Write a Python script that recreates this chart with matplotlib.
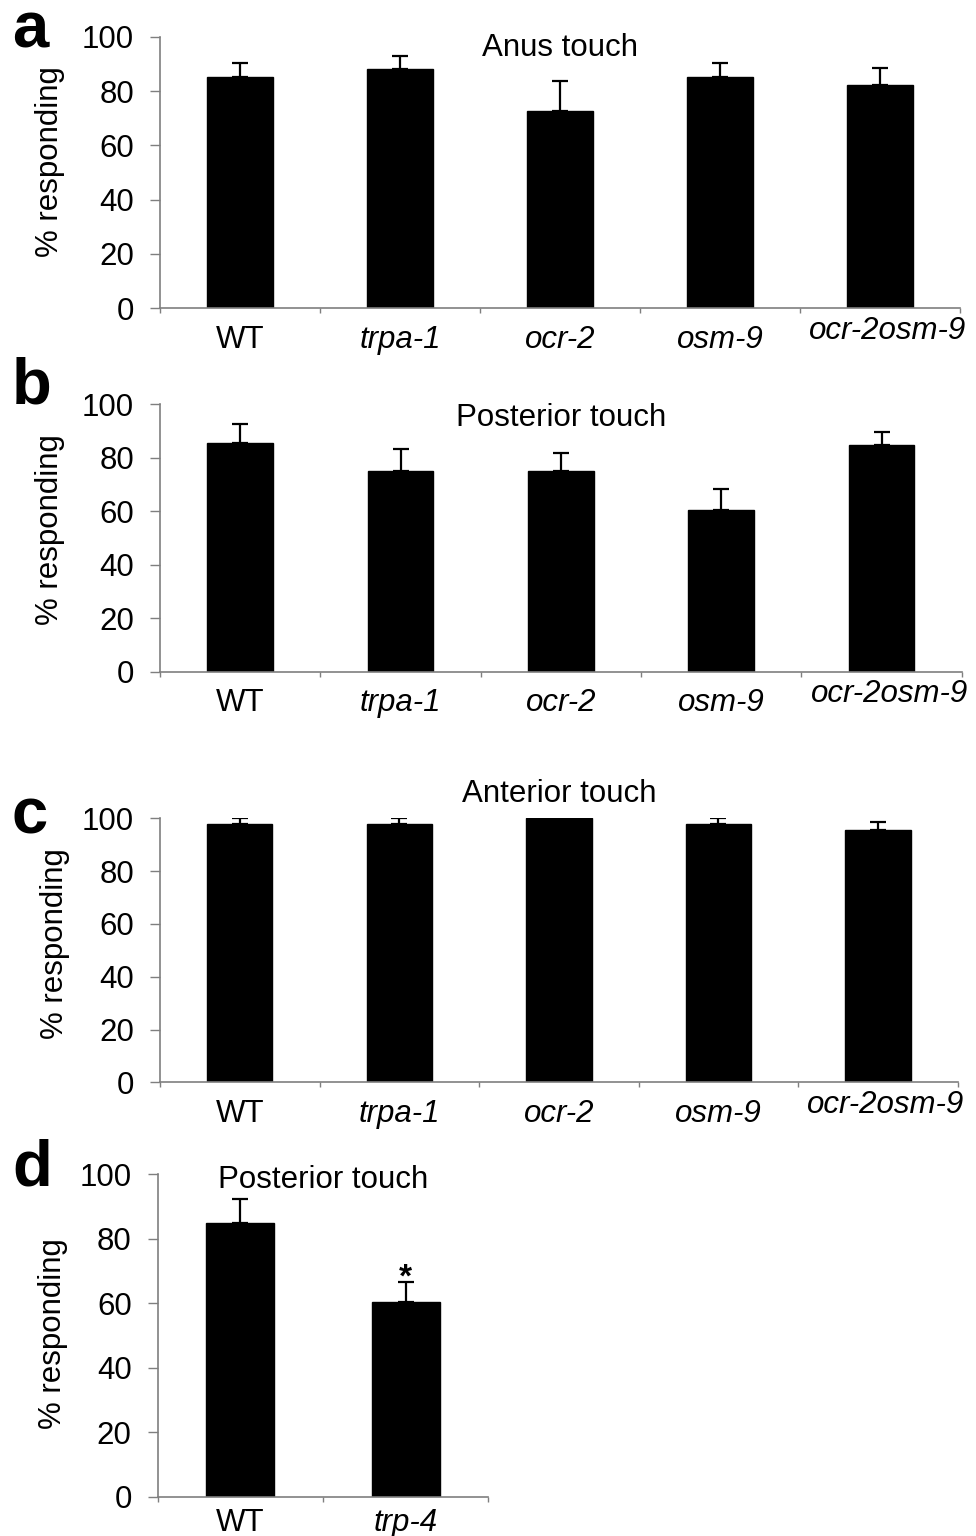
import matplotlib
matplotlib.use("Agg")
import matplotlib.pyplot as plt
from matplotlib.transforms import ScaledTranslation

plt.rcParams['font.family'] = ['Liberation Sans', 'DejaVu Sans']

# ---------------- data ----------------
categories = ['WT', 'trpa-1', 'ocr-2', 'osm-9', 'ocr-2osm-9']
anus = [85.0, 88.0, 72.8, 85.0, 82.1]
anus_err = [5.2, 4.9, 10.8, 5.2, 6.4]
posterior = [85.4, 75.2, 75.2, 60.5, 84.7]
posterior_err = [7.4, 8.0, 6.5, 8.0, 5.0]
anterior = [98.0, 98.0, 100.0, 98.0, 95.6]
anterior_err = [2.0, 2.0, 0.0, 2.0, 2.9]
d_categories = ['WT', 'trp-4']
d_values = [85.0, 60.4]
d_err = [7.4, 6.3]
yticks = [0, 20, 40, 60, 80, 100]

W, H = 976, 1536
fig = plt.figure(figsize=(W / 100, H / 100), dpi=100)

GRAY = '#7f7f7f'
FS = 22.5


def px_axes(left, top, right, bottom):
    return fig.add_axes([left / W, 1 - bottom / H, (right - left) / W, (bottom - top) / H])


def panel(ax, cats, vals, errs, title, title_y, ylab_pos, last_shift=None, xpad=12):
    n = len(cats)
    xs = [i + 0.5 for i in range(n)]
    ax.bar(xs, vals, width=0.41, color='black', edgecolor='black', zorder=2)
    ax.errorbar(xs, vals, yerr=[[0] * n, errs], fmt='none', ecolor='black',
                elinewidth=1.6, capsize=5.5, capthick=1.6, zorder=3)
    ax.set_xlim(0, n)
    ax.set_ylim(0, 100)
    ax.set_yticks(yticks)
    ax.set_yticklabels([str(t) for t in yticks], fontsize=FS)
    ax.set_xticks(xs)
    ax.set_xticklabels(cats, fontsize=FS)
    for lab, c in zip(ax.get_xticklabels(), cats):
        if c != 'WT':
            lab.set_fontstyle('italic')
    ax.set_xticks(list(range(n + 1)), minor=True)
    ax.tick_params(axis='x', which='major', length=0, pad=xpad)
    ax.tick_params(axis='x', which='minor', length=3.6, width=1, color=GRAY, direction='out')
    ax.tick_params(axis='y', length=7.2, width=1, color=GRAY, direction='out', pad=11.5)
    for s in ['top', 'right']:
        ax.spines[s].set_visible(False)
    for s in ['left', 'bottom']:
        ax.spines[s].set_color(GRAY)
        ax.spines[s].set_linewidth(1.2)
    ax.set_ylabel('% responding', fontsize=FS, va='center', ha='center')
    ax.yaxis.set_label_coords(*ylab_pos)
    ax.text(0.5, title_y, title, transform=ax.transAxes, ha='center',
            va='center', fontsize=FS, clip_on=False)
    if last_shift is not None:
        lab = ax.get_xticklabels()[-1]
        lab.set_transform(lab.get_transform() +
                          ScaledTranslation(last_shift[0] / 100, last_shift[1] / 100,
                                            fig.dpi_scale_trans))
    return ax


ax_a = px_axes(160, 36.7, 960, 308.3)
panel(ax_a, categories, anus, anus_err, 'Anus touch', 0.958, (-0.1375, 0.542), (8, 9))

ax_b = px_axes(160, 404.3, 961.7, 671.7)
panel(ax_b, categories, posterior, posterior_err, 'Posterior touch', 0.948, (-0.137, 0.530), (8, 9))

ax_c = px_axes(160, 818.3, 957.7, 1082.3)
panel(ax_c, categories, anterior, anterior_err, 'Anterior touch', 1.092, (-0.1316, 0.524), (8, 9))

ax_d = px_axes(157.7, 1174.3, 488.3, 1496.7)
panel(ax_d, d_categories, d_values, d_err, 'Posterior touch', 0.982, (-0.318, 0.507), xpad=8)
ax_d.text(1.5, d_values[1] + d_err[1] - 1.6, '*', ha='center', va='baseline',
          fontsize=24, fontweight='bold')

# panel letters
for letter, base in [('a', 47.3), ('b', 404), ('c', 833.3), ('d', 1185.7)]:
    fig.text(12 / W, 1 - base / H, letter, fontsize=47, fontweight='bold',
             ha='left', va='baseline')

fig.savefig('out.png', dpi=100)
